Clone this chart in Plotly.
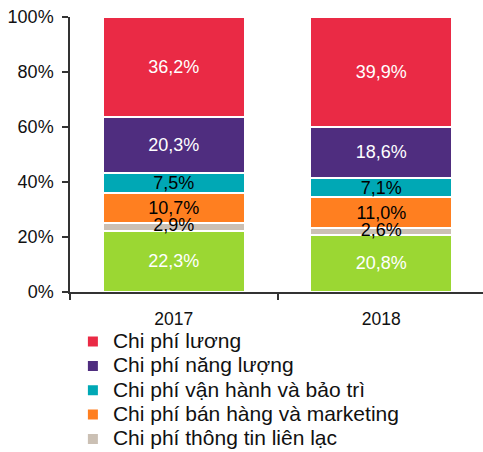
import plotly.graph_objects as go

years = ["2017", "2018"]
series_names = [
    "Chi phí khác",
    "Chi phí thông tin liên lạc",
    "Chi phí bán hàng và marketing",
    "Chi phí vận hành và bảo trì",
    "Chi phí năng lượng",
    "Chi phí lương",
]
green_vals = [22.3, 20.8]
gray_vals = [2.9, 2.6]
orange_vals = [10.7, 11.0]
teal_vals = [7.5, 7.1]
purple_vals = [20.3, 18.6]
red_vals = [36.2, 39.9]
y_tick_vals = [0, 20, 40, 60, 80, 100]
y_tick_text = ["0%", "20%", "40%", "60%", "80%", "100%"]

series_values = [green_vals, gray_vals, orange_vals, teal_vals, purple_vals, red_vals]
colors = ["#9BD733", "#CBC0B4", "#FF7F20", "#00A8B5", "#4F2D7F", "#EA2A45"]
text_colors = ["white", "black", "black", "black", "white", "white"]
show_in_legend = [False, True, True, True, True, True]
# the thin segment's label is drawn on top of the neighbouring bars
label_on_top = [False, True, False, False, False, False]

FONT = "Arial, Liberation Sans, sans-serif"

fig = go.Figure()
for name, vals, col, tcol, sl, top in zip(series_names, series_values, colors,
                                          text_colors, show_in_legend, label_on_top):
    fig.add_trace(go.Bar(
        x=years, y=vals,
        name=f'<span style="font-size:21px">{name}</span>',
        marker=dict(color=col, line=dict(color="white", width=2)),
        texttemplate="" if top else "%{y:.1f}%",
        textposition="inside",
        insidetextanchor="middle",
        textangle=0,
        constraintext="none",
        textfont=dict(family=FONT, size=18, color=tcol),
        showlegend=sl,
        hoverinfo="skip",
    ))

# labels for thin segments, placed at segment middles computed from the data
base = [0.0] * len(years)
for vals, tcol, top in zip(series_values, text_colors, label_on_top):
    if top:
        mids = [b + v / 2 for b, v in zip(base, vals)]
        fig.add_trace(go.Scatter(
            x=years, y=mids, mode="text",
            text=[f"{v:.1f}%".replace(".", ",") for v in vals],
            textposition="middle center",
            textfont=dict(family=FONT, size=18, color=tcol),
            showlegend=False, hoverinfo="skip", cliponaxis=False,
        ))
    base = [b + v for b, v in zip(base, vals)]

fig.update_layout(
    width=483, height=452,
    margin=dict(l=70, r=0, t=17, b=160, autoexpand=False),
    barmode="stack",
    bargap=0.316,
    separators=",.",
    plot_bgcolor="white",
    paper_bgcolor="white",
    font=dict(family=FONT, size=17.5, color="#111111"),
    showlegend=True,
    legend=dict(
        traceorder="reversed",
        orientation="v",
        x=0.007, xanchor="left",
        y=-0.118, yanchor="top",
        font=dict(family=FONT, size=16.4, color="#111111"),
        bgcolor="rgba(0,0,0,0)",
    ),
    xaxis=dict(
        range=[-0.5, 1.49],
        showline=True, linecolor="#333333", linewidth=1.5,
        ticks="outside", ticklen=6, tickcolor="#333333", tickwidth=1.5,
        tickson="boundaries",
        ticklabelstandoff=10,
        showgrid=False, zeroline=False, automargin=False,
        tickfont=dict(family=FONT, size=17.5, color="#111111"),
    ),
    yaxis=dict(
        range=[0, 100],
        tickmode="array",
        tickvals=y_tick_vals,
        ticktext=y_tick_text,
        showline=True, linecolor="#333333", linewidth=1.5,
        ticks="outside", ticklen=6, tickcolor="#333333", tickwidth=1.5,
        ticklabelstandoff=5,
        showgrid=False, zeroline=False, automargin=False,
        tickfont=dict(family=FONT, size=18, color="#111111"),
    ),
)

fig.write_html(
    "out.html",
    config={"displayModeBar": False},
    post_script="document.body.style.margin='0';",
)
